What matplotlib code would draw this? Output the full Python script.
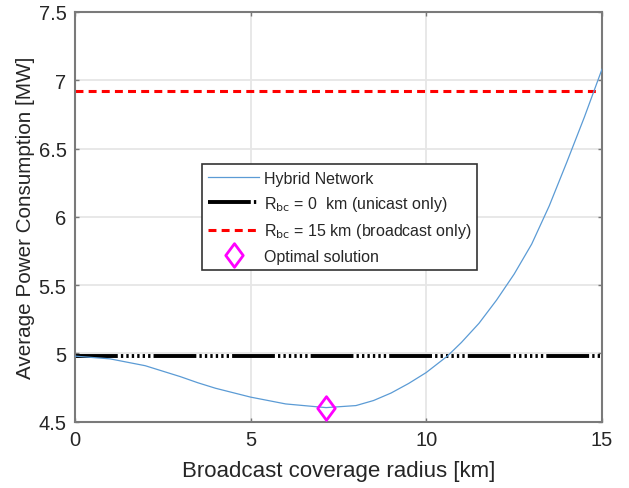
import matplotlib
matplotlib.use("Agg")
import matplotlib.pyplot as plt
from matplotlib.path import Path

plt.rcParams['font.family'] = ['Liberation Sans', 'DejaVu Sans']

# hybrid network power vs. broadcast radius
radius_km = [0, 1, 2, 2.5, 3, 3.5, 4, 5, 6, 7.15, 8, 8.5, 9, 9.5, 10,
             10.6, 11, 11.5, 12, 12.5, 13, 13.5, 14, 14.5, 15]
power_mw = [4.98, 4.96, 4.91, 4.87, 4.83, 4.785, 4.745, 4.68, 4.63, 4.603, 4.618, 4.655, 4.71, 4.78, 4.86,
            4.98, 5.08, 5.22, 5.39, 5.58, 5.80, 6.08, 6.40, 6.73, 7.08]

unicast_mw = 4.98      # R_bc = 0 km
broadcast_mw = 6.92    # R_bc = 15 km
opt_radius = 7.15
opt_power = 4.603

x_ticks = [0, 5, 10, 15]
y_ticks = [4.5, 5, 5.5, 6, 6.5, 7, 7.5]

fig = plt.figure(figsize=(6.29, 4.89), dpi=100)
ax = fig.add_axes([0.119, 0.1356, 0.838, 0.838])

ax.plot(radius_km, power_mw, color='#5b9bd5', lw=0.9, label='Hybrid Network', zorder=3)
ax.plot([radius_km[0], radius_km[-1]], [unicast_mw, unicast_mw], color='black', lw=2.8,
        dashes=(11, 0.8, 0.6, 0.8, 0.6, 0.8, 0.6, 0.8, 0.6, 0.8, 0.6, 0.8, 0.6, 0.8),
        label=r'R$_{\rm bc}$ = 0  km (unicast only)', zorder=2)
ax.plot([radius_km[0], radius_km[-1]], [broadcast_mw, broadcast_mw], color='red', lw=2.2,
        dashes=(2.6, 1.7), label=r'R$_{\rm bc}$ = 15 km (broadcast only)', zorder=2)

diamond = Path([(0, 1), (0.74, 0), (0, -1), (-0.74, 0), (0, 1)],
               [Path.MOVETO, Path.LINETO, Path.LINETO, Path.LINETO, Path.CLOSEPOLY])
ax.plot([opt_radius], [opt_power], linestyle='none', marker=diamond, markersize=17,
        markerfacecolor='none', markeredgecolor='magenta', markeredgewidth=2,
        label='Optimal solution', zorder=4)

ax.set_xlim(0, 15)
ax.set_ylim(4.5, 7.5)
ax.set_xticks(x_ticks)
ax.set_yticks(y_ticks)
ax.set_xticklabels([str(t) for t in x_ticks])
ax.set_yticklabels(['4.5', '5', '5.5', '6', '6.5', '7', '7.5'])
ax.grid(True, color='#e6e6e6', lw=1.3)
ax.set_axisbelow(True)
ax.tick_params(direction='in', length=3, width=1, colors='#777777', labelcolor='#262626',
               labelsize=14.5, top=True, right=True, pad=6)
for sp in ax.spines.values():
    sp.set_color('#7a7a7a')
    sp.set_linewidth(1.5)

ax.set_xlabel('Broadcast coverage radius [km]', fontsize=16, color='#262626', labelpad=8)
ax.set_ylabel('Average Power Consumption [MW]', fontsize=14.9, color='#262626')
ax.yaxis.set_label_coords(-0.076, 0.5)

leg = ax.legend(loc='lower left', bbox_to_anchor=(0.241, 0.370, 0.522, 0.261), mode='expand',
                fontsize=11.5, frameon=True, fancybox=False, borderaxespad=0,
                handlelength=3.2, handletextpad=0.3, labelspacing=0.52, borderpad=0.4)
frame = leg.get_frame()
frame.set_edgecolor('#333333')
frame.set_linewidth(1.2)
frame.set_facecolor('white')
frame.set_alpha(1)
for t in leg.get_texts():
    t.set_color('#262626')

fig.savefig('out.png', dpi=100)
